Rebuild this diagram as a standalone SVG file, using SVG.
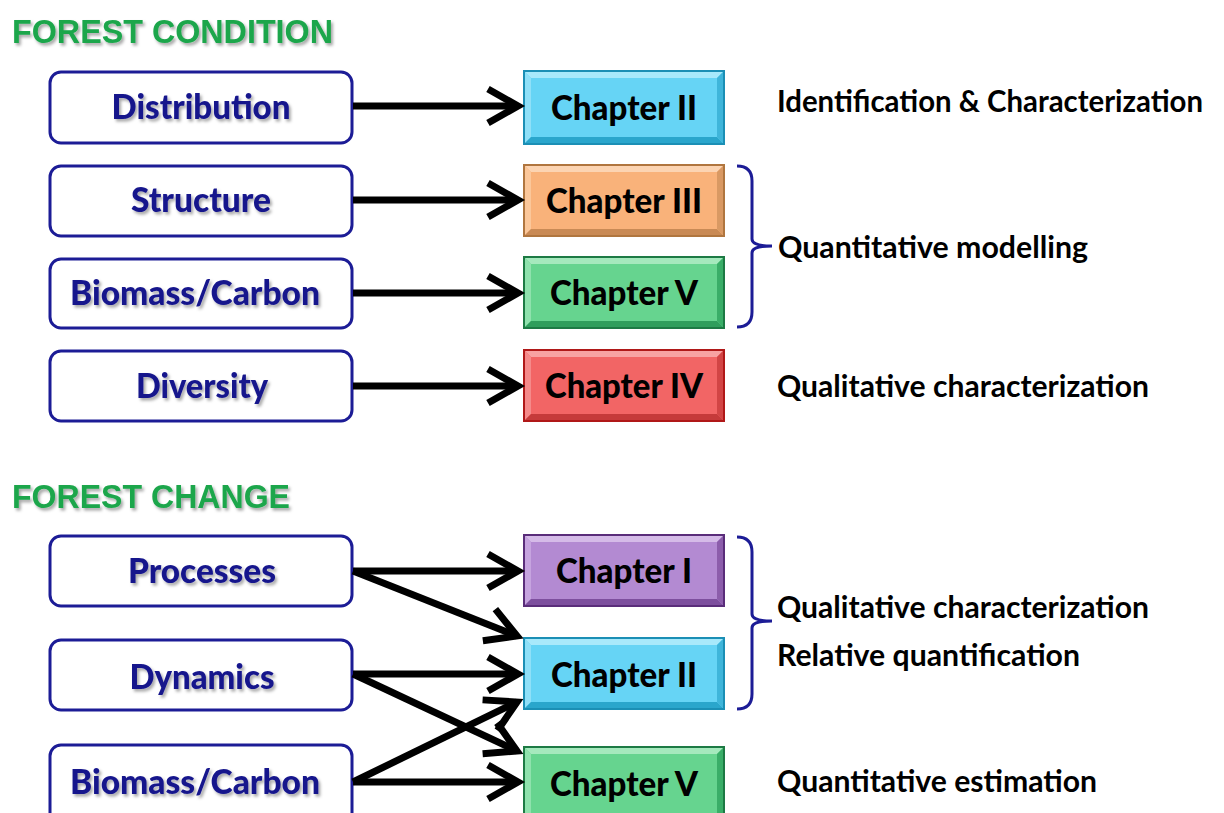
<svg xmlns="http://www.w3.org/2000/svg" width="1224" height="813" viewBox="0 0 1224 813">
<defs>
<style>
.title{font-family:"Liberation Sans",Arial,sans-serif;font-weight:bold;font-size:33px;fill:#1ca64c}
.lbox{fill:#fff;stroke:#1c1c96;stroke-width:3}
.ltxt{font-family:Lato,"Open Sans",sans-serif;font-weight:900;font-size:34px;fill:#14148c;text-anchor:middle}
.ctxt{font-family:Lato,"Open Sans",sans-serif;font-weight:900;font-size:35px;fill:#000;text-anchor:middle}
.rtxt{font-family:Lato,"Open Sans",sans-serif;font-weight:bold;font-size:30px;fill:#000}
.conn{fill:none;stroke:#000;stroke-width:7;marker-end:url(#ah)}
.brace{fill:none;stroke:#1c1c96;stroke-width:3}
</style>
<filter id="sh" x="-10%" y="-20%" width="130%" height="150%">
<feDropShadow dx="2" dy="2.5" stdDeviation="1.5" flood-color="#000" flood-opacity="0.35"/>
</filter>
<marker id="ah" markerUnits="userSpaceOnUse" viewBox="-40 -25 50 50" markerWidth="50" markerHeight="50" refX="0" refY="0" orient="auto" overflow="visible">
<path d="M-30,-17 L0,0 L-30,17" fill="none" stroke="#000" stroke-width="7"/>
</marker>
</defs>
<rect width="1224" height="813" fill="#fff"/>

<text class="title" x="12" y="43" filter="url(#sh)" textLength="321" lengthAdjust="spacingAndGlyphs">FOREST CONDITION</text>
<text class="title" x="12" y="508" filter="url(#sh)" textLength="278" lengthAdjust="spacingAndGlyphs">FOREST CHANGE</text>

<!-- left nodes -->
<g id="n-distribution"><rect class="lbox" x="50" y="72" width="302" height="71" rx="11"/><text class="ltxt" x="201" y="119" filter="url(#sh)" textLength="179" lengthAdjust="spacingAndGlyphs">Distribution</text></g>
<g id="n-structure"><rect class="lbox" x="50" y="166" width="302" height="70" rx="11"/><text class="ltxt" x="201" y="212" filter="url(#sh)" textLength="140" lengthAdjust="spacingAndGlyphs">Structure</text></g>
<g id="n-biomass1"><rect class="lbox" x="50" y="259" width="302" height="69" rx="11"/><text class="ltxt" x="195" y="305" filter="url(#sh)" textLength="250" lengthAdjust="spacingAndGlyphs">Biomass/Carbon</text></g>
<g id="n-diversity"><rect class="lbox" x="50" y="351" width="302" height="70" rx="11"/><text class="ltxt" x="202" y="398" filter="url(#sh)" textLength="132" lengthAdjust="spacingAndGlyphs">Diversity</text></g>
<g id="n-processes"><rect class="lbox" x="50" y="536" width="302" height="70" rx="11"/><text class="ltxt" x="202" y="583" filter="url(#sh)" textLength="148" lengthAdjust="spacingAndGlyphs">Processes</text></g>
<g id="n-dynamics"><rect class="lbox" x="50" y="640" width="302" height="70" rx="11"/><text class="ltxt" x="202" y="689" filter="url(#sh)" textLength="145" lengthAdjust="spacingAndGlyphs">Dynamics</text></g>
<g id="n-biomass2"><rect class="lbox" x="50" y="745" width="302" height="80" rx="11"/><text class="ltxt" x="195" y="794" filter="url(#sh)" textLength="250" lengthAdjust="spacingAndGlyphs">Biomass/Carbon</text></g>

<!-- chapter nodes -->
<g id="c-ch2a">
<rect x="524" y="71" width="200" height="73" fill="#66d4f5" stroke="#1b8fb5" stroke-width="2"/>
<polygon points="525,72 723,72 717,78 531,78" fill="#a8e9fb"/>
<polygon points="525,72 531,78 531,137 525,143" fill="#8fe0f8"/>
<polygon points="525,143 531,137 717,137 723,143" fill="#2aa6cc"/>
<polygon points="723,72 723,143 717,137 717,78" fill="#3fb5da"/>
<text class="ctxt" x="624" y="120" textLength="146" lengthAdjust="spacingAndGlyphs">Chapter II</text></g>

<g id="c-ch3">
<rect x="524" y="165" width="200" height="71" fill="#f9b27a" stroke="#b0763f" stroke-width="2"/>
<polygon points="525,166 723,166 717,172 531,172" fill="#fcd4b2"/>
<polygon points="525,166 531,172 531,229 525,235" fill="#fbc79a"/>
<polygon points="525,235 531,229 717,229 723,235" fill="#c98a55"/>
<polygon points="723,166 723,235 717,229 717,172" fill="#d99963"/>
<text class="ctxt" x="624" y="213" textLength="156" lengthAdjust="spacingAndGlyphs">Chapter III</text></g>

<g id="c-ch5a">
<rect x="524" y="257" width="200" height="71" fill="#66d48f" stroke="#1d7a44" stroke-width="2"/>
<polygon points="525,258 723,258 717,264 531,264" fill="#a5e9bd"/>
<polygon points="525,258 531,264 531,321 525,327" fill="#8fe2ad"/>
<polygon points="525,327 531,321 717,321 723,327" fill="#2f9e5c"/>
<polygon points="723,258 723,327 717,321 717,264" fill="#3aae68"/>
<text class="ctxt" x="624" y="305" textLength="148" lengthAdjust="spacingAndGlyphs">Chapter V</text></g>

<g id="c-ch4">
<rect x="524" y="350" width="200" height="71" fill="#f26565" stroke="#b01818" stroke-width="2"/>
<polygon points="525,351 723,351 717,357 531,357" fill="#f8a2a2"/>
<polygon points="525,351 531,357 531,414 525,420" fill="#f58a8a"/>
<polygon points="525,420 531,414 717,414 723,420" fill="#c53a3a"/>
<polygon points="723,351 723,420 717,414 717,357" fill="#d24545"/>
<text class="ctxt" x="624" y="398" textLength="158" lengthAdjust="spacingAndGlyphs">Chapter IV</text></g>

<g id="c-ch1">
<rect x="524" y="535" width="200" height="71" fill="#b38ad2" stroke="#5a2d7a" stroke-width="2"/>
<polygon points="525,536 723,536 717,542 531,542" fill="#d5bbe8"/>
<polygon points="525,536 531,542 531,599 525,605" fill="#c6a4df"/>
<polygon points="525,605 531,599 717,599 723,605" fill="#7d4f9e"/>
<polygon points="723,536 723,605 717,599 717,542" fill="#8c5dab"/>
<text class="ctxt" x="624" y="583" textLength="136" lengthAdjust="spacingAndGlyphs">Chapter I</text></g>

<g id="c-ch2b">
<rect x="524" y="638" width="200" height="71" fill="#66d4f5" stroke="#1b8fb5" stroke-width="2"/>
<polygon points="525,639 723,639 717,645 531,645" fill="#a8e9fb"/>
<polygon points="525,639 531,645 531,702 525,708" fill="#8fe0f8"/>
<polygon points="525,708 531,702 717,702 723,708" fill="#2aa6cc"/>
<polygon points="723,639 723,708 717,702 717,645" fill="#3fb5da"/>
<text class="ctxt" x="624" y="687" textLength="146" lengthAdjust="spacingAndGlyphs">Chapter II</text></g>

<g id="c-ch5b">
<rect x="524" y="747" width="200" height="80" fill="#66d48f" stroke="#1d7a44" stroke-width="2"/>
<polygon points="525,748 723,748 717,754 531,754" fill="#a5e9bd"/>
<polygon points="525,748 531,754 531,813 525,813" fill="#8fe2ad"/>
<polygon points="723,748 723,813 717,813 717,754" fill="#3aae68"/>
<text class="ctxt" x="624" y="796" textLength="148" lengthAdjust="spacingAndGlyphs">Chapter V</text></g>

<!-- connectors -->
<g id="connectors">
<line class="conn" x1="353" y1="106" x2="518" y2="106"/>
<line class="conn" x1="353" y1="200" x2="518" y2="200"/>
<line class="conn" x1="353" y1="293" x2="518" y2="293"/>
<line class="conn" x1="353" y1="386" x2="518" y2="386"/>
<line class="conn" x1="353" y1="571" x2="518" y2="571"/>
<line class="conn" x1="353" y1="571" x2="517" y2="636"/>
<line class="conn" x1="353" y1="674" x2="518" y2="674"/>
<line class="conn" x1="353" y1="674" x2="517" y2="751"/>
<line class="conn" x1="353" y1="782" x2="517" y2="702"/>
<line class="conn" x1="353" y1="782" x2="518" y2="782"/>
</g>

<!-- braces -->
<g id="brace-1"><path class="brace" d="M737,166 Q752,166 752,181 L752,239 Q752,246 772,246 Q752,246 752,253 L752,312 Q752,327 737,327"/></g>
<g id="brace-2"><path class="brace" d="M737,537 Q752,537 752,552 L752,614 Q752,621 772,621 Q752,621 752,628 L752,694 Q752,709 737,709"/></g>

<!-- right labels -->
<text class="rtxt" x="777" y="112" textLength="426" lengthAdjust="spacingAndGlyphs">Identification &amp; Characterization</text>
<text class="rtxt" x="778" y="258" textLength="310" lengthAdjust="spacingAndGlyphs">Quantitative modelling</text>
<text class="rtxt" x="777" y="397" textLength="372" lengthAdjust="spacingAndGlyphs">Qualitative characterization</text>
<text class="rtxt" x="777" y="618" textLength="372" lengthAdjust="spacingAndGlyphs">Qualitative characterization</text>
<text class="rtxt" x="777" y="666" textLength="303" lengthAdjust="spacingAndGlyphs">Relative quantification</text>
<text class="rtxt" x="777" y="792" textLength="320" lengthAdjust="spacingAndGlyphs">Quantitative estimation</text>
</svg>
